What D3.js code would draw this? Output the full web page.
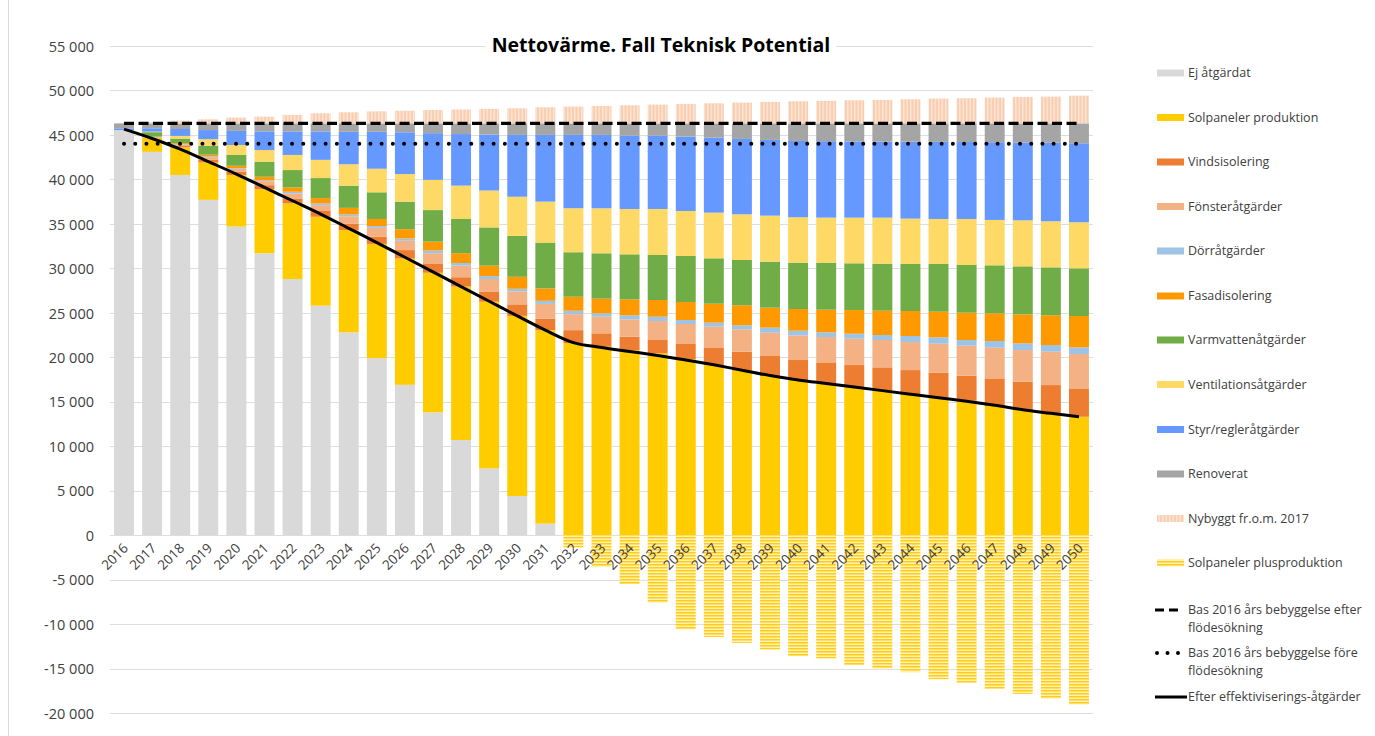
<!DOCTYPE html>
<html lang="sv">
<head>
<meta charset="UTF-8">
<title>Nettovärme. Fall Teknisk Potential</title>
<script src="https://cdn.jsdelivr.net/npm/d3@7"></script>
<style>
    body { margin: 0; background: #fff; }
    svg { font-family: "Open Sans", sans-serif; }
</style>
</head>
<body>
<svg id="chart" width="1375" height="736"></svg>
<script>
// categories
var years = [2016, 2017, 2018, 2019, 2020, 2021, 2022, 2023, 2024, 2025, 2026, 2027, 2028, 2029, 2030, 2031,
    2032, 2033, 2034, 2035, 2036, 2037, 2038, 2039, 2040, 2041, 2042, 2043, 2044, 2045, 2046, 2047, 2048, 2049, 2050];

// stacked series, bottom to top (MWh)
var ejAtgardat = [45550, 43100, 40500, 37700, 34700, 31700, 28800, 25800, 22800, 19900, 16900, 13800, 10700, 7500, 4400, 1300,
    0, 0, 0, 0, 0, 0, 0, 0, 0, 0, 0, 0, 0, 0, 0, 0, 0, 0, 0];
var solProduktion = [0, 1530, 3100, 4200, 5800, 7200, 8500, 10000, 11500, 12850, 14200, 15700, 17250, 18750, 20250, 21750,
    21600, 21190, 20810, 20440, 19760, 19125, 18490, 17890, 17440, 17060, 16615, 16240, 15825, 15490, 15110, 14510, 14060, 13690, 13310];
var vindsisolering = [0, 60, 150, 300, 350, 450, 560, 650, 700, 800, 950, 1050, 1050, 1150, 1300, 1300, 1450,
    1500, 1500, 1570, 1800, 1985, 2135, 2250, 2250, 2365, 2510, 2625, 2735, 2770, 2815, 3115, 3190, 3185, 3190];
var fonster = [0, 60, 150, 300, 350, 450, 560, 650, 850, 1000, 1050, 1150, 1300, 1400, 1450, 1650, 1800,
    1870, 1950, 2065, 2180, 2330, 2515, 2620, 2770, 2850, 2960, 3075, 3150, 3265, 3375, 3450, 3560, 3750, 3860];
var dorr = [0, 20, 50, 80, 80, 100, 190, 200, 200, 200, 250, 300, 300, 330, 300, 350, 380,
    380, 450, 485, 450, 450, 450, 565, 530, 525, 565, 560, 680, 715, 640, 750, 750, 750, 750];
var fasad = [0, 40, 120, 200, 250, 400, 490, 600, 750, 800, 1050, 1000, 1100, 1170, 1350, 1400, 1580,
    1650, 1805, 1880, 2020, 2135, 2250, 2250, 2435, 2550, 2660, 2735, 2810, 2885, 3070, 3115, 3265, 3355, 3530];
var varmvatten = [0, 500, 520, 980, 1220, 1700, 1950, 2250, 2500, 3000, 3100, 3550, 3850, 4300, 4600, 5150, 5000,
    5100, 5060, 5060, 5180, 5100, 5100, 5175, 5215, 5290, 5255, 5290, 5290, 5365, 5365, 5400, 5400, 5380, 5360];
var ventilation = [0, 60, 300, 760, 1120, 1300, 1700, 2050, 2400, 2650, 3100, 3400, 3750, 4150, 4400, 4600, 4950,
    5060, 5100, 5175, 5060, 5135, 5135, 5175, 5100, 5060, 5135, 5175, 5100, 5060, 5175, 5100, 5175, 5180, 5180];
var styrRegler = [190, 380, 780, 1030, 1580, 2100, 2650, 3200, 3650, 4150, 4700, 5250, 5800, 6300, 6950, 7500, 8240,
    8250, 8250, 8250, 8360, 8440, 8475, 8515, 8585, 8600, 8570, 8550, 8650, 8670, 8650, 8740, 8760, 8840, 8880];
var renoverat = [560, 550, 630, 750, 850, 900, 900, 900, 950, 950, 1000, 1100, 1200, 1250, 1300, 1300, 1300,
    1300, 1375, 1375, 1490, 1600, 1750, 1860, 1975, 2000, 2030, 2050, 2060, 2080, 2100, 2120, 2140, 2170, 2240];
var nybyggt = [0, 150, 310, 460, 650, 760, 950, 1140, 1250, 1350, 1420, 1500, 1560, 1630, 1700, 1810, 1890,
    1960, 2040, 2110, 2190, 2260, 2340, 2410, 2490, 2530, 2600, 2640, 2710, 2790, 2830, 2900, 2980, 3010, 3120];

// negative bars
var solPlus = [0, 0, 0, 0, 0, 0, 0, 0, 0, 0, 0, 0, 0, 0, 0, 0,
    -1390, -3560, -5510, -7575, -10610, -11440, -12110, -12860, -13610, -13875, -14625, -15000, -15410, -16200, -16610, -17290, -17850, -18375, -19050];

// lines
var effektiv = [45650, 44600, 43400, 42000, 40600, 39100, 37600, 36100, 34500, 32900, 31250, 29600, 27950, 26300, 24650, 23050,
    21650, 21100, 20650, 20200, 19700, 19150, 18550, 17950, 17450, 17050, 16650, 16250, 15850, 15450, 15050, 14600, 14100, 13700, 13300];
var basEfter = 46300;
var basFore = 44000;

var yTicks = [-20000, -15000, -10000, -5000, 0, 5000, 10000, 15000, 20000, 25000, 30000, 35000, 40000, 45000, 50000, 55000];

var seriesNames = ["Ej åtgärdat", "Solpaneler produktion", "Vindsisolering", "Fönsteråtgärder", "Dörråtgärder",
    "Fasadisolering", "Varmvattenåtgärder", "Ventilationsåtgärder", "Styr/regleråtgärder", "Renoverat", "Nybyggt fr.o.m. 2017"];
var seriesValues = [ejAtgardat, solProduktion, vindsisolering, fonster, dorr, fasad, varmvatten, ventilation, styrRegler, renoverat, nybyggt];
var seriesFill = ["#d9d9d9", "#ffcc00", "#ed7d31", "#f4b183", "#9dc3e6", "#ff9900", "#70ad47", "#ffd966", "#6699ff", "#a5a5a5", "url(#patNy)"];

// build rows for d3.stack
var rows = years.map(function(yr, i) {
    var r = { year: yr };
    seriesNames.forEach(function(n, k) { r[n] = seriesValues[k][i]; });
    return r;
});

var svg = d3.select("#chart");
var plotLeft = 110, plotRight = 1093, plotTop = 46, plotBottom = 713;

var x = d3.scaleBand().domain(years).range([plotLeft, plotRight]).paddingInner(0.29).paddingOuter(0.145);
var y = d3.scaleLinear().domain([-20000, 55000]).range([plotBottom, plotTop]);

var loc = d3.formatLocale({ decimal: ",", thousands: " ", grouping: [3], currency: ["", ""], minus: "-" });
var fmt = loc.format(",d");

// patterns
var defs = svg.append("defs");
var pNy = defs.append("pattern").attr("id", "patNy").attr("patternUnits", "userSpaceOnUse")
    .attr("width", 3.5).attr("height", 4);
pNy.append("rect").attr("width", 3.5).attr("height", 4).attr("fill", "#f8cdb0");
pNy.append("rect").attr("width", 1.4).attr("height", 4).attr("fill", "#fde6d6");

var pPlus = defs.append("pattern").attr("id", "patPlus").attr("patternUnits", "userSpaceOnUse")
    .attr("width", 4).attr("height", 3);
pPlus.append("rect").attr("width", 4).attr("height", 3).attr("fill", "#fff2b3");
pPlus.append("rect").attr("width", 4).attr("height", 1.5).attr("fill", "#ffcc1a");

// chart border at left
svg.append("line").attr("x1", 8.5).attr("x2", 8.5).attr("y1", 0).attr("y2", 736)
    .attr("stroke", "#d9d9d9");

// gridlines
svg.append("g").selectAll("line").data(yTicks).enter().append("line")
    .attr("x1", plotLeft).attr("x2", plotRight)
    .attr("y1", function(d) { return Math.round(y(d)) + 0.5; })
    .attr("y2", function(d) { return Math.round(y(d)) + 0.5; })
    .attr("stroke", "#dedede").attr("stroke-width", 1.2);

// title (sits over the top gridline, like the chart title box)
var title = svg.append("text").attr("x", 661).attr("y", 52).attr("text-anchor", "middle")
    .style("font-size", "19.5px").style("font-weight", "bold").attr("fill", "#000")
    .text("Nettovärme. Fall Teknisk Potential");
var tb = title.node().getBBox();
svg.insert("rect", "text").attr("x", tb.x - 6).attr("y", tb.y).attr("width", tb.width + 12).attr("height", tb.height)
    .attr("fill", "#fff");

// y axis labels
var yAxis = d3.axisLeft(y).tickValues(yTicks).tickSize(0).tickPadding(0).tickFormat(fmt);
var gy = svg.append("g").attr("transform", "translate(94,0)").call(yAxis);
gy.select(".domain").remove();
gy.selectAll("text").style("font-size", "14.5px").style("font-family", "'Open Sans', sans-serif")
    .attr("fill", "#404040").attr("dy", "0.36em");

// stacked bars
var stack = d3.stack().keys(seriesNames);
var layers = stack(rows);
svg.append("g").selectAll("g").data(layers).enter().append("g")
    .attr("fill", function(d, i) { return seriesFill[i]; })
    .selectAll("rect").data(function(d) { return d; }).enter().append("rect")
    .attr("x", function(d) { return x(d.data.year); })
    .attr("width", x.bandwidth())
    .attr("y", function(d) { return y(d[1]); })
    .attr("height", function(d) { return Math.max(0, y(d[0]) - y(d[1])); });

// negative bars (plusproduktion)
svg.append("g").selectAll("rect").data(years).enter().append("rect")
    .attr("x", function(d) { return x(d); })
    .attr("width", x.bandwidth())
    .attr("y", y(0))
    .attr("height", function(d, i) { return y(solPlus[i]) - y(0); })
    .attr("fill", "url(#patPlus)");

// x axis labels
svg.append("g").selectAll("text").data(years).enter().append("text")
    .attr("transform", function(d) {
        return "translate(" + (x(d) + x.bandwidth() / 2 + 5) + "," + 549 + ") rotate(-45)";
    })
    .attr("text-anchor", "end")
    .style("font-size", "13.5px").attr("fill", "#404040")
    .text(function(d) { return d; });

// lines
var cx = function(yr) { return x(yr) + x.bandwidth() / 2; };
svg.append("line")
    .attr("x1", cx(years[0])).attr("x2", cx(years[years.length - 1]))
    .attr("y1", y(basEfter)).attr("y2", y(basEfter))
    .attr("stroke", "#000").attr("stroke-width", 3.2).attr("stroke-dasharray", "10,4.5");
svg.append("line")
    .attr("x1", cx(years[0])).attr("x2", cx(years[years.length - 1]))
    .attr("y1", y(basFore)).attr("y2", y(basFore))
    .attr("stroke", "#000").attr("stroke-width", 4).attr("stroke-linecap", "round")
    .attr("stroke-dasharray", "0,11.2");

var line = d3.line()
    .x(function(d, i) { return cx(years[i]); })
    .y(function(d) { return y(d); })
    .curve(d3.curveMonotoneX);
svg.append("path").datum(effektiv).attr("d", line)
    .attr("fill", "none").attr("stroke", "#000").attr("stroke-width", 3);

// legend
var legendItems = seriesNames.map(function(n, i) { return { name: [n], type: "bar", fill: seriesFill[i] }; });
legendItems.push({ name: ["Solpaneler plusproduktion"], type: "bar", fill: "url(#patPlus)" });
legendItems.push({ name: ["Bas 2016 års bebyggelse efter", "flödesökning"], type: "dash" });
legendItems.push({ name: ["Bas 2016 års bebyggelse före", "flödesökning"], type: "dot" });
legendItems.push({ name: ["Efter effektiviserings-åtgärder"], type: "solid" });

var legendY = [73, 117.5, 162, 206.5, 251, 296, 340, 384.5, 429.5, 474, 518.5, 563, 610, 653, 697];

var lg = svg.append("g");
legendItems.forEach(function(it, i) {
    var ly = legendY[i];
    var g = lg.append("g");
    if (it.type === "bar") {
        g.append("rect").attr("x", 1157).attr("y", ly - 3.5).attr("width", 27).attr("height", 7)
            .attr("fill", it.fill);
    } else if (it.type === "dash") {
        g.append("line").attr("x1", 1155).attr("x2", 1181).attr("y1", ly).attr("y2", ly)
            .attr("stroke", "#000").attr("stroke-width", 3.2).attr("stroke-dasharray", "9,5");
    } else if (it.type === "dot") {
        g.append("line").attr("x1", 1157).attr("x2", 1181).attr("y1", ly).attr("y2", ly)
            .attr("stroke", "#000").attr("stroke-width", 4).attr("stroke-linecap", "round")
            .attr("stroke-dasharray", "0,10.5");
    } else {
        g.append("line").attr("x1", 1155).attr("x2", 1187).attr("y1", ly).attr("y2", ly)
            .attr("stroke", "#000").attr("stroke-width", 3);
    }
    it.name.forEach(function(t, k) {
        g.append("text").attr("x", 1188).attr("y", ly + k * 17.5).attr("dy", "0.35em")
            .style("font-size", "12.5px").attr("fill", "#404040").text(t);
    });
});
</script>
</body>
</html>
